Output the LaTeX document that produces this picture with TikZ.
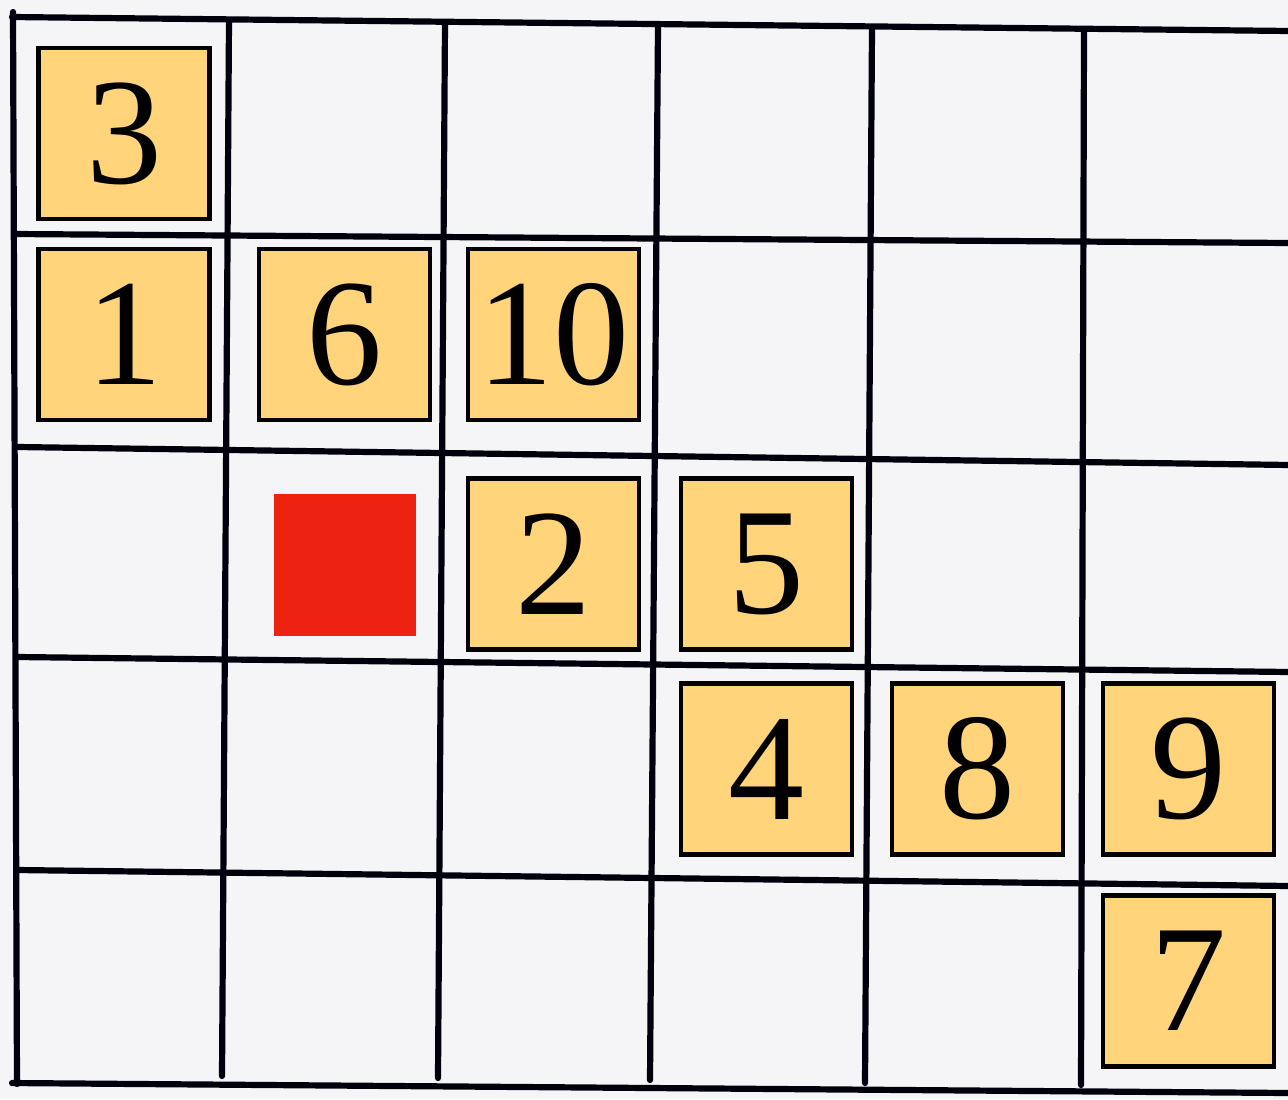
\documentclass[tikz,border=0pt]{standalone}
\usepackage{fontspec}
\setmainfont{Liberation Serif}
\definecolor{paper}{HTML}{F5F5F7}
\definecolor{tilefill}{HTML}{FFD47A}
\definecolor{redsq}{HTML}{EE2210}
\tikzset{
  gridline/.style={line width=3.1pt, draw=black!95!blue, line cap=round},
  tile/.style={draw=black, line width=2.2pt, fill=tilefill, minimum size=85.5pt, inner sep=0pt,
    font=\fontsize{76}{76}\selectfont},
  redbox/.style={fill=redsq, minimum size=71pt, inner sep=0pt}
}
\begin{document}
\begin{tikzpicture}[x=0.5pt,y=-0.5pt]
\fill[paper] (0,0) rectangle (1288,1099);
\useasboundingbox (0,0) rectangle (1288,1099);
% horizontal lines
\coordinate (h0a) at (12,17);  \coordinate (h0b) at (1290,31);
\coordinate (h1a) at (15,234); \coordinate (h1b) at (1290,243);
\coordinate (h2a) at (18,447); \coordinate (h2b) at (1290,465);
\coordinate (h3a) at (18,657); \coordinate (h3b) at (1290,672);
\coordinate (h4a) at (18,870); \coordinate (h4b) at (1290,886);
\coordinate (h5a) at (12,1083); \coordinate (h5b) at (1290,1093);
\foreach \i in {0,...,5} { \draw[gridline] (h\i a) -- (h\i b); }
% vertical lines
\coordinate (v0a) at (13,12);  \coordinate (v0b) at (17,1084);
\coordinate (v1a) at (229,20); \coordinate (v1b) at (222,1076);
\coordinate (v2a) at (445,22); \coordinate (v2b) at (438,1078);
\coordinate (v3a) at (658,25); \coordinate (v3b) at (650,1080);
\coordinate (v4a) at (872,27); \coordinate (v4b) at (865,1083);
\coordinate (v5a) at (1084,29); \coordinate (v5b) at (1081,1085);
\foreach \i in {0,...,5} { \draw[gridline] (v\i a) -- (v\i b); }
% tiles
\node[tile] (t3)  at (124,133.5) {3};
\node[tile] (t1)  at (124,334.5) {1};
\node[tile] (t6)  at (344.5,334.5) {6};
\node[tile] (t10) at (553.5,334.5) {10};
\node[redbox] (red) at (345,564.5) {};
\node[tile] (t2)  at (553.5,564) {2};
\node[tile] (t5)  at (766.5,564) {5};
\node[tile] (t4)  at (766.5,769) {4};
\node[tile] (t8)  at (977.5,769) {8};
\node[tile] (t9)  at (1188.5,769) {9};
\node[tile] (t7)  at (1188.5,981) {7};
\end{tikzpicture}
\end{document}
